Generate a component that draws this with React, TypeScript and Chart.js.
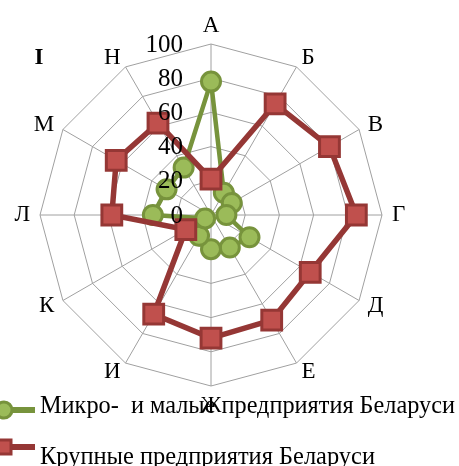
import React, { useEffect, useRef } from "react";
import { Chart, registerables } from "chart.js";

Chart.register(...registerables);

const categories = ["А", "Б", "В", "Г", "Д", "Е", "Ж", "И", "К", "Л", "М", "Н"];
const microSmall = [78, 15, 14, 9, 26, 22, 20, 14, 4, 34, 30, 32];
const large = [21, 75, 80, 85, 67, 71, 72, 67, 17, 58, 64, 62];
const tickValues = [0, 20, 40, 60, 80, 100];
const seriesNames = ["Микро-  и малые предприятия Беларуси", "Крупные предприятия Беларуси"];
const panelLabel = "I";

const GREEN_LINE = "#77933C";
const GREEN_FILL = "#9BBB59";
const RED_LINE = "#953735";
const RED_FILL = "#C0504D";
const SERIF = "'Liberation Serif', 'DejaVu Serif', serif";

const overlayPlugin = {
  id: "overlay",
  afterDraw(chart: any) {
    const ctx = chart.ctx;
    const scale = chart.scales.r;
    const cx = scale.xCenter;
    const cy = scale.yCenter;
    ctx.save();
    ctx.fillStyle = "#000";

    // tick labels
    ctx.font = `25px ${SERIF}`;
    ctx.textAlign = "right";
    ctx.textBaseline = "middle";
    tickValues.forEach((v) => {
      const d = scale.getDistanceFromCenterForValue(v);
      ctx.fillText(String(v), cx - 28, cy - d + 1);
    });

    // category labels
    ctx.font = `23px ${SERIF}`;
    const R = scale.drawingArea + 10;
    chart.data.labels.forEach((lab: string, i: number) => {
      const p = scale.getPointPosition(i, R);
      const dx = p.x - cx;
      const dy = p.y - cy;
      let align: CanvasTextAlign = "center";
      if (dx > 1) align = "left";
      else if (dx < -1) align = "right";
      let base: CanvasTextBaseline = "middle";
      if (Math.abs(dx) <= 1) base = dy < 0 ? "alphabetic" : "top";
      ctx.textAlign = align;
      ctx.textBaseline = base;
      let y = p.y;
      if (base === "alphabetic") y = p.y - 2;
      if (base === "top") y = p.y - 2;
      ctx.fillText(lab, p.x, y);
    });

    // panel label
    ctx.font = `bold 23px ${SERIF}`;
    ctx.textAlign = "center";
    ctx.textBaseline = "middle";
    ctx.fillText(panelLabel, 39, 58);

    // legend
    const ds = chart.data.datasets;
    const rows = [
      { y: 410, base: 413, d: ds[1], target: 415 },
      { y: 447, base: 464, d: ds[0], target: 335 },
    ];
    rows.forEach((r) => {
      ctx.strokeStyle = r.d.borderColor;
      ctx.lineWidth = 6;
      ctx.beginPath();
      ctx.moveTo(0, r.y);
      ctx.lineTo(35, r.y);
      ctx.stroke();
      ctx.fillStyle = r.d.pointBackgroundColor;
      ctx.strokeStyle = r.d.pointBorderColor;
      ctx.lineWidth = 3;
      ctx.beginPath();
      if (r.d.pointStyle === "circle") {
        ctx.arc(4, r.y, 8, 0, Math.PI * 2);
      } else {
        ctx.rect(-5, r.y - 7, 16, 14);
      }
      ctx.fill();
      ctx.stroke();
      ctx.fillStyle = "#000";
      ctx.font = `25px ${SERIF}`;
      ctx.textAlign = "left";
      ctx.textBaseline = "alphabetic";
      const w = ctx.measureText(r.d.label).width;
      ctx.save();
      ctx.translate(40, r.base);
      ctx.scale(r.target / w, 1);
      ctx.fillText(r.d.label, 0, 0);
      ctx.restore();
    });
    ctx.restore();
  },
};

export default function App() {
  const ref = useRef<HTMLCanvasElement>(null);
  useEffect(() => {
    if (!ref.current) return;
    const chart = new Chart(ref.current, {
      type: "radar",
      data: {
        labels: categories,
        datasets: [
          {
            label: seriesNames[1],
            data: large,
            order: 0,
            borderColor: RED_LINE,
            borderWidth: 5.5,
            backgroundColor: "transparent",
            fill: false,
            pointStyle: "rect",
            pointRadius: 14,
            pointBackgroundColor: RED_FILL,
            pointBorderColor: RED_LINE,
            pointBorderWidth: 3,
          },
          {
            label: seriesNames[0],
            data: microSmall,
            order: 1,
            borderColor: GREEN_LINE,
            borderWidth: 4.5,
            backgroundColor: "transparent",
            fill: false,
            pointStyle: "circle",
            pointRadius: 9.5,
            pointBackgroundColor: GREEN_FILL,
            pointBorderColor: GREEN_LINE,
            pointBorderWidth: 3,
          },
        ],
      },
      options: {
        responsive: false,
        animation: false,
        layout: { padding: { left: 40, top: 44, right: 77, bottom: 80 } },
        plugins: { legend: { display: false }, tooltip: { enabled: false } },
        elements: { line: { tension: 0 } },
        scales: {
          r: {
            min: 0,
            max: 100,
            ticks: { stepSize: 20, display: false },
            pointLabels: { display: false },
            grid: { color: "#a0a0a0", lineWidth: 1 },
            angleLines: { color: "#a0a0a0", lineWidth: 1 },
          },
        },
      },
      plugins: [overlayPlugin],
    } as any);
    return () => chart.destroy();
  }, []);
  return (
    <div style={{ position: "fixed", left: 0, top: 0, width: 459, height: 466, background: "#fff" }}>
      <canvas ref={ref} width={459} height={466} style={{ display: "block" }} />
    </div>
  );
}
